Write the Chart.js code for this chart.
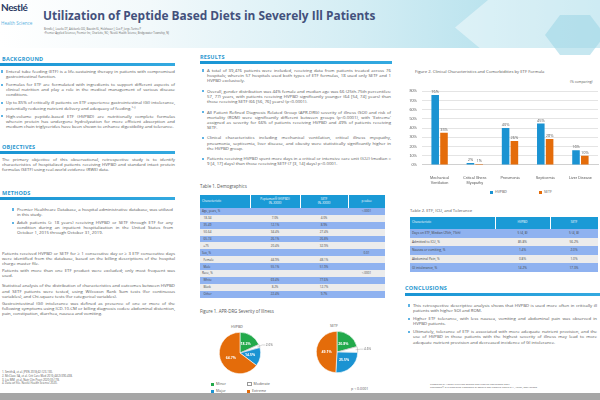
<!DOCTYPE html>
<html><head><meta charset="utf-8">
<script src="https://cdn.jsdelivr.net/npm/chart.js@4/dist/chart.umd.min.js"></script>
<style>
html,body{margin:0;padding:0;}
body{width:600px;height:400px;overflow:hidden;position:relative;background:#fff;font-family:"Open Sans","Liberation Sans",sans-serif;color:#555;}
.abs{position:absolute;}
#header{left:0;top:0;width:600px;height:48px;background:linear-gradient(90deg,#ffffff 0%,#f2f9fb 25%,#d3edf4 60%,#a6dbe9 100%);}
#hex{left:455px;top:-10px;width:150px;height:75px;background:rgba(255,255,255,0.45);clip-path:polygon(30% 0,100% 0,100% 100%,30% 100%,0 50%);}
#hex2{left:545px;top:15px;width:60px;height:40px;background:rgba(160,215,230,0.6);clip-path:polygon(25% 0,75% 0,100% 50%,75% 100%,25% 100%,0 50%);}
#logo{left:1px;top:1px;font:bold 10px "Lato",sans-serif;color:#2b3a63;letter-spacing:-0.4px;}
#logo2{left:1px;top:20px;font:4.6px "Open Sans",sans-serif;color:#5ab0de;}
#title{left:43px;top:7px;font:bold 11.9px "Open Sans",sans-serif;color:#43517c;white-space:nowrap;}
.auth{font-size:2.6px;color:#666;white-space:nowrap;left:44px;}
.sec{font:bold 5.5px "Open Sans",sans-serif;color:#2a97cf;letter-spacing:0.2px;}
.bar{height:2.5px;background:linear-gradient(90deg,#1a95d4,#33a9e0);}
.txt{font-size:4.3px;line-height:5.1px;color:#555;text-align:justify;}
.txt ul{margin:0;padding-left:6px;list-style:none;}
.txt li{position:relative;margin-bottom:3px;}
.txt li:before{content:"";position:absolute;left:-5px;top:1.4px;width:2.2px;height:2.2px;background:#5fb3e4;}
.txt p{margin:0 0 2px 0;}
#res li{margin-bottom:5.5px;}
.cap{font-size:4.4px;color:#555;white-space:nowrap;}
table{border-collapse:collapse;font-size:3px;color:#444;table-layout:fixed;}
td,th{padding:0 2px;height:6.9px;overflow:hidden;white-space:nowrap;}
th{background:#1a9ad6;color:#fff;font-weight:normal;line-height:3.6px;border-right:1px solid #fff;}
tr.b td{background:#8fb2f0;}
tr.g td{background:#ececec;}
td.c{text-align:center;}
#t2 td{height:8.6px;font-size:3.2px;}
#t2 th{height:12px;}
.leg{font-size:3.6px;color:#555;white-space:nowrap;}
.sw{display:inline-block;width:3px;height:3px;margin-right:2px;vertical-align:middle;}
#bottom{left:0;top:393px;width:600px;height:7px;background:#a6a6a6;}
</style></head>
<body>
<div id="header" class="abs"></div>
<div id="hex" class="abs"></div>
<div id="hex2" class="abs"></div>
<div id="logo" class="abs">Nestlé</div>
<div id="logo2" class="abs">Health Science</div>
<div id="title" class="abs">Utilization of Peptide Based Diets in Severely Ill Patients</div>
<div class="abs auth" style="top:27px">Brindle J, Loucks DT, Adekunle OO, Baustin KL, Holzhauer J, Cox P, Jorge-Turino P</div>
<div class="abs auth" style="top:31px">¹Premier Applied Sciences, Premier Inc, Charlotte, NC; ²Nestlé Health Science, Bridgewater Township, NJ</div>

<!-- LEFT COLUMN -->
<div class="abs sec" style="left:2px;top:55px">BACKGROUND</div>
<div class="abs bar" style="left:0;top:63px;width:175px"></div>
<div class="abs txt" style="left:0px;top:69px;width:175px"><ul>
<li>Enteral tube feeding (ETF) is a life-sustaining therapy in patients with compromised gastrointestinal function.</li>
<li>Formulas for ETF are formulated with ingredients to support different aspects of clinical nutrition and play a role in the medical management of various disease conditions.</li>
<li>Up to 85% of critically ill patients on ETF experience gastrointestinal (GI) intolerance, potentially reducing nutrient delivery and adequacy of feeding.¹⁻³</li>
<li>High-volume peptide-based ETF (HVPBD) are nutritionally complete formulas wherein protein has undergone hydrolyzation for more efficient absorption and medium chain triglycerides have been shown to enhance digestibility and tolerance.</li>
</ul></div>
<div class="abs sec" style="left:2px;top:143px">OBJECTIVES</div>
<div class="abs bar" style="left:0;top:151px;width:175px"></div>
<div class="abs txt" style="left:2px;top:157px;width:173px"><p>The primary objective of this observational, retrospective study is to identify characteristics of hospitalized patients receiving HVPBD and standard intact protein formulas (SETF) using real-world evidence (RWE) data.</p></div>
<div class="abs sec" style="left:2px;top:189px">METHODS</div>
<div class="abs bar" style="left:0;top:197px;width:175px"></div>
<div class="abs txt" style="left:11px;top:207px;width:162px"><ul>
<li>Premier Healthcare Database, a hospital administrative database, was utilized in this study.</li>
<li>Adult patients (≥ 18 years) receiving HVPBD or SETF through ETF for any condition during an inpatient hospitalization in the United States from October 1, 2015 through October 31, 2019.</li>
</ul></div>
<div class="abs txt" style="left:2px;top:251px;width:173px">
<p>Patients received HVPBD or SETF for ≥ 1 consecutive day or ≥ 3 ETF consecutive days were identified from the database, based on the billing descriptions of the hospital charge master file.</p>
<p>Patients with more than one ETF product were excluded; only most frequent was used.</p>
<p style="margin-top:5px">Statistical analysis of the distribution of characteristics and outcomes between HVPBD and SETF patients were tested, using Wilcoxon Rank Sum tests (for continuous variables), and Chi-square tests (for categorical variables).</p>
<p>Gastrointestinal (GI) intolerance was defined as presence of one or more of the following symptoms using ICD-10-CM or billing diagnosis codes: abdominal distention, pain, constipation, diarrhea, nausea and vomiting.</p>
</div>
<div class="abs txt" style="left:2px;top:371px;width:110px;font-size:2.8px;line-height:3.8px;white-space:nowrap">
1. Smith A, et al. JPEN 2018;42:123-130.<br>2. McClave SA, et al. Crit Care Med 2016;44(2):390-438.<br>3. Liu MM, et al. Nutr Clin Pract 2020;35:178.<br>4. Data on file. Nestlé Health Science 2020.
</div>

<!-- MIDDLE COLUMN -->
<div class="abs sec" style="left:200px;top:53px">RESULTS</div>
<div class="abs bar" style="left:200px;top:61px;width:192px"></div>
<div id="res" class="abs txt" style="left:201px;top:68px;width:190px"><ul>
<li>A total of 39,476 patients were included, receiving data from patients treated across 76 hospitals; wherein 57 hospitals used both types of ETF formulas, 18 used only SETF and 1 HVPBD exclusively.</li>
<li>Overall, gender distribution was 44% female and median age was 66 (25th-75th percentiles: 57, 77) years, with patients receiving HVPBD significantly younger (64 [54, 74] years) than those receiving SETF (66 [56, 76] years) (p&lt;0.0001).</li>
<li>All Patient Refined Diagnosis Related Group (APR-DRG) severity of illness (SOI) and risk of mortality (ROM) were significantly different between groups (p&lt;0.0001), with 'Extreme' assigned as severity for 66% of patients receiving HVPBD and 49% of patients receiving SETF.</li>
<li>Clinical characteristics including mechanical ventilation, critical illness myopathy, pneumonia, septicemia, liver disease, and obesity were statistically significantly higher in the HVPBD group.</li>
<li>Patients receiving HVPBD spent more days in a critical or intensive care unit (ICU) (median = 9 [4, 17] days) than those receiving SETF (7 [3, 14] days) p&lt;0.0001.</li>
</ul></div>
<div class="abs cap" style="left:200px;top:183px">Table 1. Demographics</div>
<table id="t1" class="abs" style="left:200px;top:195px;width:185px">
<colgroup><col style="width:50px"><col style="width:50px"><col style="width:48px"><col style="width:37px"></colgroup>
<tr><th style="height:13px;text-align:left">Characteristic</th><th>Peptamen® (HVPBD)<br>(N=XXXX)</th><th>SETF<br>(N=XXXX)</th><th>p-value</th></tr>
<tr class="b"><td>Age, years, %</td><td></td><td></td><td class="c">&lt;.0001</td></tr>
<tr class="g"><td>&nbsp;&nbsp;18-34</td><td class="c">7.0%</td><td class="c">4.0%</td><td></td></tr>
<tr class="b"><td>&nbsp;&nbsp;35-49</td><td class="c">12.1%</td><td class="c">8.9%</td><td></td></tr>
<tr class="g"><td>&nbsp;&nbsp;50-64</td><td class="c">34.4%</td><td class="c">27.4%</td><td></td></tr>
<tr class="b"><td>&nbsp;&nbsp;65-74</td><td class="c">26.1%</td><td class="c">26.8%</td><td></td></tr>
<tr class="g"><td>&nbsp;&nbsp;≥75</td><td class="c">20.4%</td><td class="c">32.9%</td><td></td></tr>
<tr class="b"><td>Sex, %</td><td></td><td></td><td class="c">0.01</td></tr>
<tr class="g"><td>&nbsp;&nbsp;Female</td><td class="c">44.9%</td><td class="c">48.1%</td><td></td></tr>
<tr class="b"><td>&nbsp;&nbsp;Male</td><td class="c">55.1%</td><td class="c">51.9%</td><td></td></tr>
<tr class="g"><td>Race, %</td><td></td><td></td><td class="c">&lt;.0001</td></tr>
<tr class="b"><td>&nbsp;&nbsp;White</td><td class="c">69.4%</td><td class="c">77.6%</td><td></td></tr>
<tr class="g"><td>&nbsp;&nbsp;Black</td><td class="c">8.2%</td><td class="c">12.7%</td><td></td></tr>
<tr class="b"><td>&nbsp;&nbsp;Other</td><td class="c">22.4%</td><td class="c">9.7%</td><td></td></tr>
</table>
<div class="abs cap" style="left:200px;top:308px">Figure 1. APR-DRG Severity of Illness</div>
<div class="abs leg" style="left:231px;top:324px">HVPBD</div>
<div class="abs leg" style="left:330px;top:323px">SETF</div>
<canvas id="pie1" class="abs" width="80" height="52" style="left:200px;top:327px"></canvas>
<canvas id="pie2" class="abs" width="80" height="52" style="left:297px;top:326px"></canvas>
<div class="abs leg" style="left:211px;top:381px"><span class="sw" style="background:#22a94b"></span>Minor</div>
<div class="abs leg" style="left:247px;top:381px"><span class="sw" style="background:#fff;border:0.5px solid #999;width:2.5px;height:2.5px"></span>Moderate</div>
<div class="abs leg" style="left:211px;top:388px"><span class="sw" style="background:#1b93d2"></span>Major</div>
<div class="abs leg" style="left:247px;top:388px"><span class="sw" style="background:#e46c0a"></span>Extreme</div>
<div class="abs leg" style="left:351px;top:386px">p &lt; 0.0001</div>

<!-- RIGHT COLUMN -->
<div class="abs cap" style="left:415px;top:69px;font-size:4.2px">Figure 2. Clinical Characteristics and Comorbidities by ETF Formula</div>
<div class="abs leg" style="left:570px;top:79px;font-size:3.4px">(% comparing)</div>
<canvas id="bars" class="abs" width="203" height="104" style="left:397px;top:84px"></canvas>
<div class="abs leg" style="left:490px;top:189px"><span class="sw" style="background:#1b93d2"></span>HVPBD</div>
<div class="abs leg" style="left:539px;top:189px"><span class="sw" style="background:#e46c0a"></span>SETF</div>

<div class="abs cap" style="left:410px;top:208px;font-size:4.2px">Table 2. ETF, ICU, and Tolerance</div>
<table id="t2" class="abs" style="left:410px;top:217px;width:188px">
<colgroup><col style="width:85px"><col style="width:55px"><col style="width:48px"></colgroup>
<tr><th style="text-align:left">Characteristic</th><th>HVPBD</th><th>SETF</th></tr>
<tr class="b"><td>Days on ETF, Median (25th, 75th)</td><td class="c">5 (4, 8)</td><td class="c">5 (4, 8)</td></tr>
<tr class="g"><td>Admitted to ICU, %</td><td class="c">85.8%</td><td class="c">56.2%</td></tr>
<tr class="b"><td>Nausea or vomiting, %</td><td class="c">1.4%</td><td class="c">2.0%</td></tr>
<tr class="g"><td>Abdominal Pain, %</td><td class="c">0.8%</td><td class="c">1.0%</td></tr>
<tr class="b"><td>GI intolerance, %</td><td class="c">14.2%</td><td class="c">17.3%</td></tr>
</table>

<div class="abs sec" style="left:405px;top:284px">CONCLUSIONS</div>
<div class="abs bar" style="left:405px;top:293px;width:195px"></div>
<div class="abs txt" style="left:407px;top:303px;width:190px"><ul>
<li>This retrospective descriptive analysis shows that HVPBD is used more often in critically ill patients with higher SOI and ROM.</li>
<li>Higher ETF tolerance, with less nausea, vomiting and abdominal pain was observed in HVPBD patients.</li>
<li>Ultimately, tolerance of ETF is associated with more adequate nutrient provision, and the use of HVPBD in those patients with the highest severity of illness may lead to more adequate nutrient provision and decreased incidence of GI intolerance.</li>
</ul></div>
<div class="abs txt" style="left:430px;top:383px;width:165px;font-size:2.5px;line-height:3.3px;white-space:nowrap">Presented at: ASPEN Nutrition Science and Practice Conference 2021<br>Peptamen® is a registered trademark of Société des Produits Nestlé S.A., Vevey, Switzerland</div>
<div id="bottom" class="abs"></div>

<script>
// ---- Data ----
const categories = [["Mechanical", "Ventilation"], ["Critical Illness", "Myopathy"], "Pneumonia", "Septicemia", "Liver Disease"];
const hvpbdValues = [76, 2, 40, 45, 16];
const setfValues = [35, 1, 26, 28, 10];
const yTicks = [0, 10, 20, 30, 40, 50, 60, 70, 80];

const severityLabels = ["Minor", "Moderate", "Major", "Extreme"];
const hvpbdSeverity = [18.2, 2.6, 14.5, 64.7];
const setfSeverity = [20.8, 4.6, 25.5, 49.1];

const BLUE = "#1b93d2", ORANGE = "#e46c0a", GREEN = "#22a94b";

const barLabels = {
  id: "barLabels",
  afterDatasetsDraw(chart) {
    const ctx = chart.ctx;
    ctx.save();
    ctx.font = "3.9px 'Open Sans', sans-serif";
    ctx.fillStyle = "#595959";
    ctx.textAlign = "center";
    ctx.textBaseline = "bottom";
    chart.data.datasets.forEach((ds, i) => {
      chart.getDatasetMeta(i).data.forEach((el, j) => {
        ctx.fillText(ds.data[j] + "%", el.x, el.y - 1);
      });
    });
    ctx.restore();
  }
};

new Chart(document.getElementById("bars"), {
  type: "bar",
  data: {
    labels: categories,
    datasets: [
      { label: "HVPBD", data: hvpbdValues, backgroundColor: BLUE },
      { label: "SETF", data: setfValues, backgroundColor: ORANGE }
    ]
  },
  options: {
    responsive: false, animation: false,
    layout: { padding: { top: 3, right: 2, left: 0, bottom: 0 } },
    plugins: { legend: { display: false }, tooltip: { enabled: false } },
    datasets: { bar: { categoryPercentage: 0.5, barPercentage: 0.86 } },
    scales: {
      x: {
        grid: { display: false },
        border: { color: "#d0d0d0" },
        ticks: { font: { size: 3.8 }, color: "#595959", maxRotation: 0, autoSkip: false, padding: 3 }
      },
      y: {
        min: 0, max: 80,
        afterBuildTicks(scale) { scale.ticks = yTicks.map(v => ({ value: v })); },
        afterFit(scale) { scale.width = 25; },
        grid: { color: "#e4e4e4", drawTicks: false },
        border: { display: false },
        ticks: { font: { size: 3.8 }, color: "#595959", padding: 5, callback: v => v + "%" }
      }
    }
  },
  plugins: [barLabels]
});

const pieLabels = {
  id: "pieLabels",
  afterDatasetsDraw(chart) {
    const ctx = chart.ctx;
    const meta = chart.getDatasetMeta(0);
    const ds = chart.data.datasets[0];
    ctx.save();
    ctx.textBaseline = "middle";
    meta.data.forEach((arc, i) => {
      const txt = ds.data[i].toFixed(1) + "%";
      if (i === 1) {
        const mid = (arc.startAngle + arc.endAngle) / 2;
        const r = arc.outerRadius;
        const x0 = arc.x + Math.cos(mid) * r * 0.9, y0 = arc.y + Math.sin(mid) * r * 0.9;
        const x1 = arc.x + Math.cos(mid) * (r + 3), y1 = arc.y + Math.sin(mid) * (r + 3);
        ctx.strokeStyle = "#999"; ctx.lineWidth = 0.4;
        ctx.beginPath(); ctx.moveTo(x0, y0); ctx.lineTo(x1, y1); ctx.lineTo(x1 + 3, y1); ctx.stroke();
        ctx.fillStyle = "#666"; ctx.textAlign = "left"; ctx.font = "3.2px 'Open Sans', sans-serif";
        ctx.fillText(txt, x1 + 3.5, y1);
      } else {
        const p = arc.tooltipPosition();
        ctx.fillStyle = "#fff"; ctx.textAlign = "center"; ctx.font = "bold 3.5px 'Open Sans', sans-serif";
        ctx.fillText(txt, p.x, p.y);
      }
    });
    ctx.restore();
  }
};

function makePie(id, values) {
  new Chart(document.getElementById(id), {
    type: "pie",
    data: {
      labels: severityLabels,
      datasets: [{
        data: values,
        backgroundColor: [GREEN, "#ffffff", BLUE, ORANGE],
        borderColor: ["#ffffff", "#b0b0b0", "#ffffff", "#ffffff"],
        borderWidth: 0.6
      }]
    },
    options: {
      responsive: false, animation: false,
      layout: { padding: { left: 19, right: 19, top: 5, bottom: 5 } },
      plugins: { legend: { display: false }, tooltip: { enabled: false } }
    },
    plugins: [pieLabels]
  });
}
makePie("pie1", hvpbdSeverity);
makePie("pie2", setfSeverity);
</script>
</body></html>
